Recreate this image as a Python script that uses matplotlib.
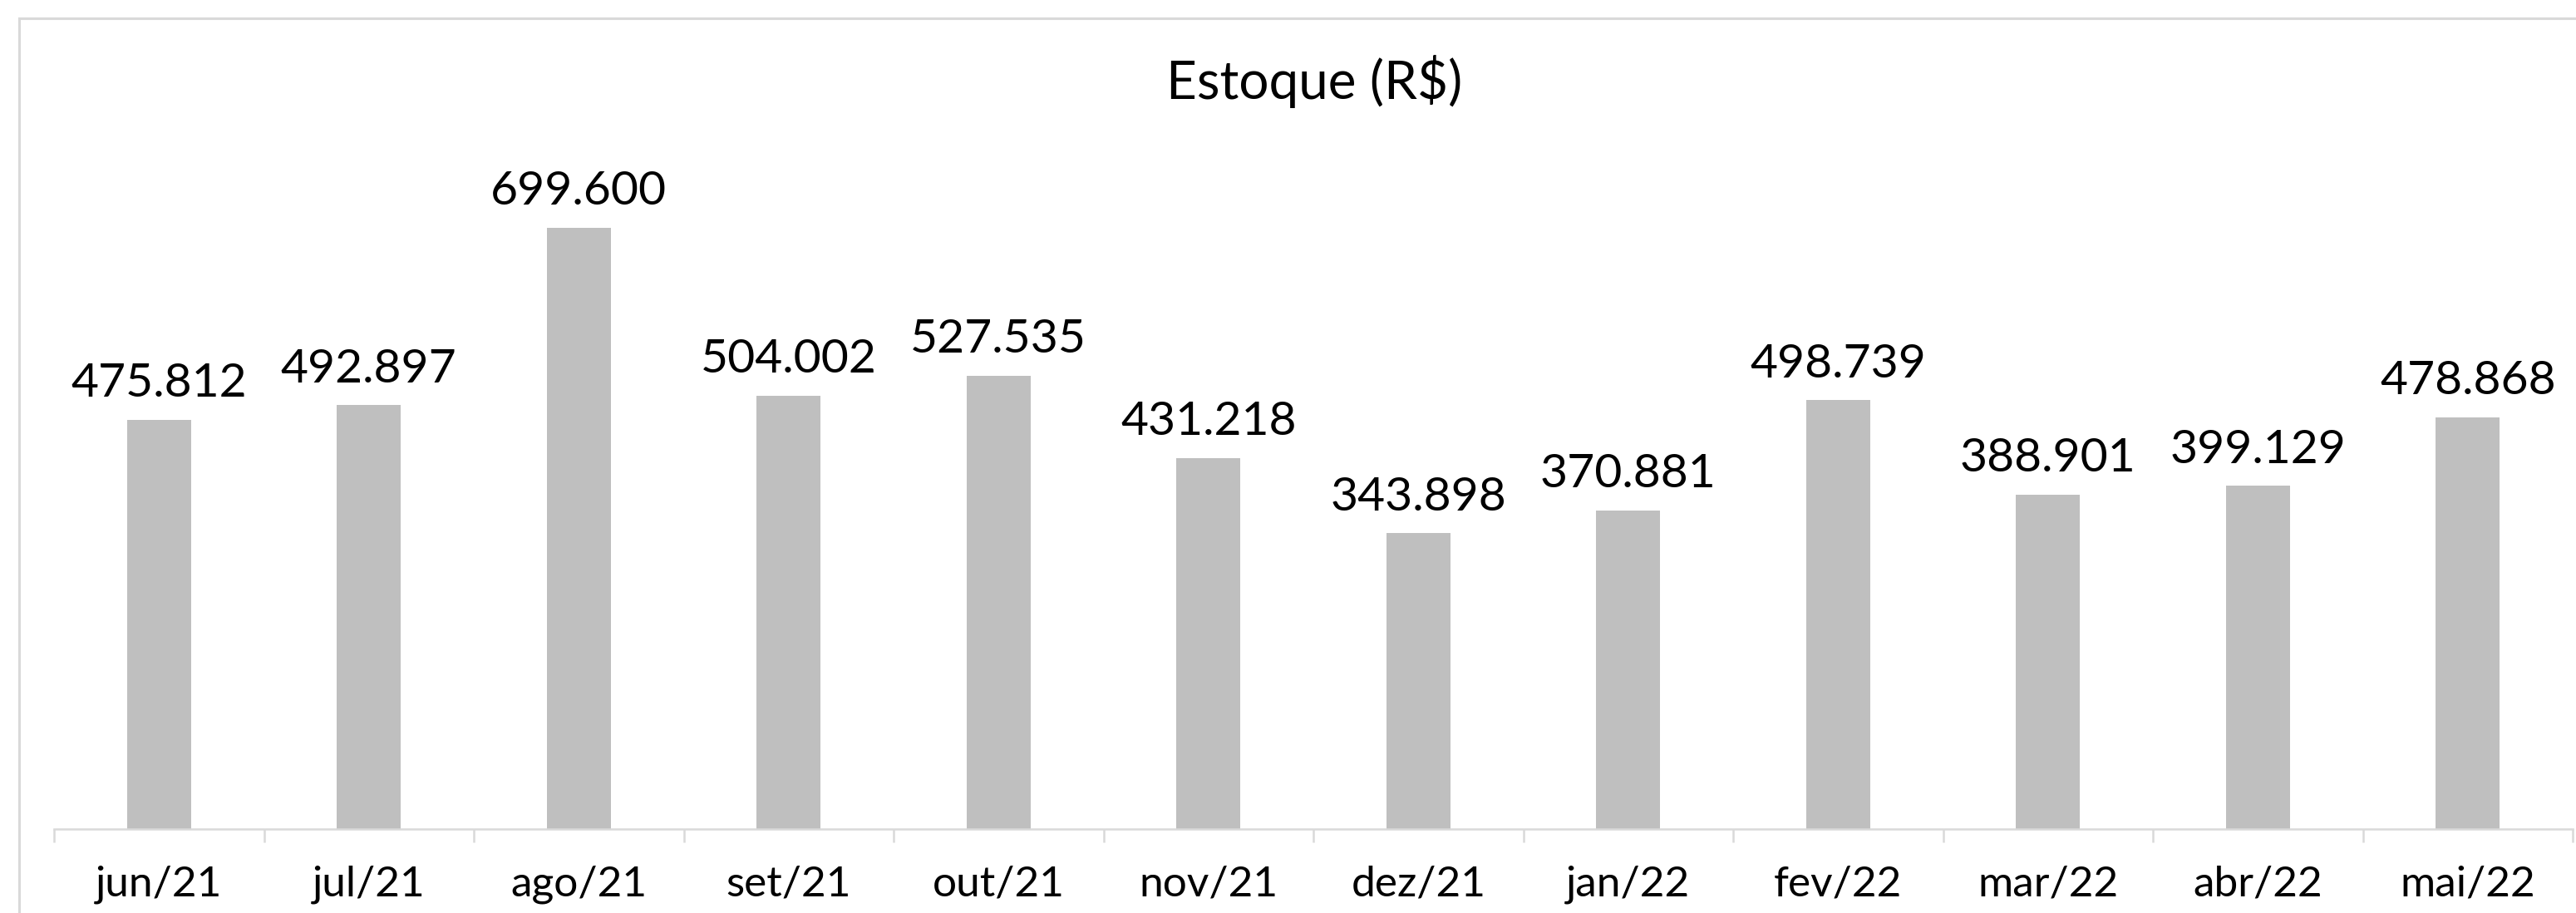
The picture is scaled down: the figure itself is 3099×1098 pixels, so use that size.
import matplotlib
matplotlib.use("Agg")
import matplotlib.pyplot as plt
from matplotlib.patches import Rectangle

plt.rcParams['font.family'] = ['Lato', 'DejaVu Sans']

categories = ["jun/21", "jul/21", "ago/21", "set/21", "out/21", "nov/21",
              "dez/21", "jan/22", "fev/22", "mar/22", "abr/22", "mai/22"]
values = [475812, 492897, 699600, 504002, 527535, 431218,
          343898, 370881, 498739, 388901, 399129, 478868]
title = "Estoque (R$)"

W, H = 3099, 1098
DPI = 100
fig = plt.figure(figsize=(W / DPI, H / DPI), dpi=DPI)

# outer frame (left and top edges visible)
fig.patches.append(Rectangle((23 / W, -0.1), 1.2, (H - 22) / H + 0.1,
                             transform=fig.transFigure, fill=False,
                             edgecolor="#d9d9d9", linewidth=2.2, zorder=0))

ax = fig.add_axes([65 / W, 101 / H, 3030 / W, 827 / H])
x = list(range(len(categories)))
ax.bar(x, values, width=0.305, color="#bfbfbf", zorder=2)
ax.set_xlim(-0.5, len(categories) - 0.5)
ax.set_ylim(0, 800000)

for s in ["top", "right", "left"]:
    ax.spines[s].set_visible(False)
ax.spines["bottom"].set_color("#d9d9d9")
ax.spines["bottom"].set_linewidth(1.8)
ax.set_yticks([])

ax.set_xticks(x)
ax.set_xticklabels(categories, fontsize=37)
ax.tick_params(axis="x", which="major", length=0, pad=31, labelcolor="black")
ax.set_xticks([i - 0.5 for i in range(len(categories) + 1)], minor=True)
ax.tick_params(axis="x", which="minor", length=11.5, width=1.8, color="#d9d9d9")

for xi, v in zip(x, values):
    lbl = f"{v:,}".replace(",", ".")
    ax.annotate(lbl, (xi, v), xytext=(0, 20), textcoords="offset points",
                ha="center", va="baseline", fontsize=41, color="black")

fig.text(1581 / W, 1 - 119 / H, title, ha="center", va="baseline",
         fontsize=46, color="black")

fig.savefig("out.png", dpi=DPI, facecolor="white")
